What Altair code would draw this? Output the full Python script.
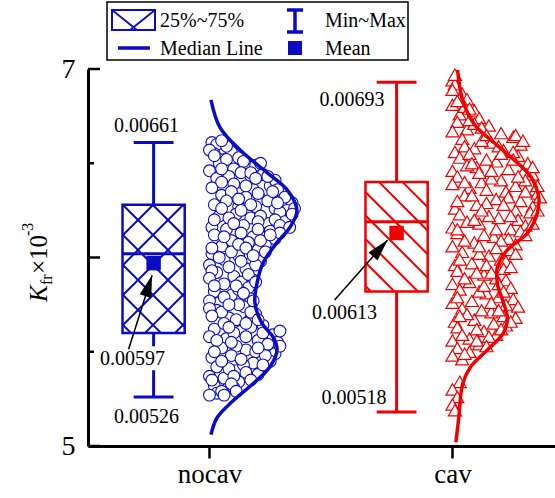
import math
import altair as alt
import pandas as pd

# ---------------- data ----------------
categories = ["nocav", "cav"]
cat_pos = [1, 2]
colors = ["#0B0BC6", "#F20000"]

box_min = [5.26, 5.18]
box_q1 = [5.60, 5.82]
box_median = [6.02, 6.19]
box_q3 = [6.28, 6.40]
box_max = [6.61, 6.93]
box_mean = [5.97, 6.13]
label_min = ["0.00526", "0.00518"]
label_max = ["0.00661", "0.00693"]
label_mean = ["0.00597", "0.00613"]

nocav_y = [6.61, 6.58, 6.56, 6.60, 6.55,
           6.53, 6.50, 6.48, 6.52, 6.46, 6.49, 6.47,
           6.44, 6.42, 6.40, 6.38, 6.43, 6.36, 6.41, 6.37, 6.39,
           6.34, 6.33, 6.31, 6.29, 6.27, 6.26, 6.32, 6.28, 6.30, 6.25, 6.33, 6.27,
           6.24, 6.22, 6.21, 6.19, 6.23, 6.18, 6.16, 6.20, 6.17, 6.22, 6.15,
           6.14, 6.12, 6.11, 6.09, 6.07, 6.13, 6.06, 6.10, 6.08,
           6.04, 6.02, 6.01, 5.99, 5.97, 6.03, 5.96, 5.98,
           5.94, 5.92, 5.90, 5.88, 5.86, 5.93, 5.87,
           5.84, 5.82, 5.80, 5.78, 5.76, 5.83, 5.77,
           5.74, 5.72, 5.70, 5.68, 5.66, 5.73, 5.67, 5.71,
           5.64, 5.62, 5.61, 5.59, 5.57, 5.63, 5.56, 5.58, 5.60, 5.55,
           5.54, 5.52, 5.51, 5.49, 5.47, 5.53, 5.46, 5.48, 5.50, 5.45,
           5.44, 5.42, 5.40, 5.38, 5.36, 5.43, 5.37, 5.41,
           5.34, 5.32, 5.30, 5.28, 5.27, 5.31, 5.29,
           6.59, 6.57, 6.62,
           6.54, 6.51, 6.47, 6.50, 6.45,
           6.45, 6.43, 6.40, 6.38, 6.36, 6.42, 6.35,
           6.35, 6.32, 6.30, 6.28, 6.26, 6.31, 6.29, 6.26, 6.34,
           6.25, 6.23, 6.21, 6.19, 6.17, 6.20, 6.18, 6.16,
           6.15, 6.13, 6.11, 6.09, 6.07, 6.05, 6.12,
           6.05, 6.03, 6.00, 5.98, 5.96, 6.01,
           5.95, 5.91, 5.89, 5.87, 5.85,
           5.85, 5.81, 5.79, 5.75, 5.77,
           5.75, 5.71, 5.69, 5.67, 5.65,
           5.65, 5.63, 5.60, 5.58, 5.56, 5.61,
           5.55, 5.53, 5.50, 5.48, 5.46, 5.52,
           5.45, 5.43, 5.39, 5.37, 5.35,
           5.35, 5.33, 5.29, 5.27]
nocav_dx = [0.01, 0.05, 0.09, 0.03, 0.02,
            0.12, 0.04, 0.16, 0.07, 0.00, 0.19, 0.10,
            0.22, 0.03, 0.13, 0.25, 0.08, 0.18, 0.27, 0.01, 0.10,
            0.30, 0.05, 0.21, 0.34, 0.12, 0.27, 0.15, 0.02, 0.24, 0.32, 0.09, 0.19,
            0.29, 0.04, 0.17, 0.31, 0.11, 0.24, 0.01, 0.27, 0.14, 0.21, 0.07,
            0.25, 0.02, 0.18, 0.09, 0.23, 0.13, 0.05, 0.27, 0.16,
            0.20, 0.01, 0.12, 0.06, 0.17, 0.09, 0.00, 0.21,
            0.15, 0.03, 0.10, 0.18, 0.06, 0.01, 0.13,
            0.16, 0.02, 0.09, 0.17, 0.04, 0.12, 0.00,
            0.14, 0.03, 0.19, 0.08, 0.16, 0.00, 0.11, 0.05,
            0.22, 0.02, 0.13, 0.26, 0.07, 0.17, 0.20, 0.00, 0.10, 0.28,
            0.24, 0.05, 0.15, 0.27, 0.01, 0.11, 0.21, 0.09, 0.19, 0.25,
            0.18, 0.03, 0.11, 0.20, 0.06, 0.14, 0.00, 0.08,
            0.12, 0.02, 0.07, 0.03, 0.00, 0.10, 0.05,
            0.07, 0.00, 0.05,
            0.02, 0.14, 0.05, 0.21, 0.13,
            0.17, 0.24, 0.05, 0.15, 0.28, 0.19, 0.09,
            0.26, 0.31, 0.07, 0.17, 0.35, 0.12, 0.28, 0.05, 0.20,
            0.13, 0.34, 0.08, 0.20, 0.29, 0.02, 0.10, 0.33,
            0.20, 0.29, 0.06, 0.21, 0.12, 0.01, 0.25,
            0.15, 0.23, 0.04, 0.13, 0.19, 0.18,
            0.08, 0.16, 0.00, 0.19, 0.11,
            0.02, 0.14, 0.06, 0.12, 0.18,
            0.08, 0.17, 0.01, 0.20, 0.06,
            0.15, 0.08, 0.22, 0.15, 0.03, 0.29,
            0.09, 0.29, 0.02, 0.23, 0.13, 0.20,
            0.05, 0.22, 0.15, 0.10, 0.17,
            0.01, 0.09, 0.11, 0.06]

cav_y = [6.94, 6.90, 6.87, 6.92,
         6.84, 6.81, 6.78, 6.76, 6.80,
         6.74, 6.72, 6.70, 6.68, 6.66, 6.71, 6.67,
         6.64, 6.63, 6.61, 6.60, 6.58, 6.57, 6.56, 6.62, 6.59,
         6.54, 6.53, 6.51, 6.50, 6.48, 6.47, 6.46, 6.52, 6.49, 6.45,
         6.44, 6.43, 6.41, 6.40, 6.38, 6.37, 6.36, 6.42, 6.39, 6.35, 6.41,
         6.34, 6.33, 6.31, 6.30, 6.28, 6.27, 6.26, 6.32, 6.29, 6.25, 6.33,
         6.24, 6.23, 6.21, 6.20, 6.18, 6.17, 6.16, 6.22, 6.19, 6.15,
         6.14, 6.13, 6.11, 6.10, 6.08, 6.07, 6.06, 6.12, 6.09,
         6.04, 6.03, 6.01, 5.99, 5.97, 5.96, 6.02, 5.98,
         5.94, 5.93, 5.91, 5.89, 5.87, 5.86, 5.92, 5.88,
         5.84, 5.83, 5.81, 5.79, 5.77, 5.76, 5.82, 5.78,
         5.74, 5.73, 5.71, 5.69, 5.67, 5.66, 5.72, 5.68, 5.70,
         5.64, 5.63, 5.61, 5.59, 5.57, 5.56, 5.62, 5.58,
         5.54, 5.52, 5.50, 5.48, 5.46,
         5.34, 5.30, 5.26, 5.22, 5.19,
         6.97, 6.89,
         6.83, 6.79,
         6.73, 6.69, 6.65,
         6.65, 6.62, 6.59, 6.56, 6.55,
         6.55, 6.52, 6.50, 6.48, 6.46,
         6.45, 6.43, 6.40, 6.38, 6.36,
         6.35, 6.32, 6.30, 6.28, 6.25,
         6.25, 6.22, 6.20, 6.18, 6.15,
         6.15, 6.12, 6.09, 6.06,
         6.05, 6.02, 5.99, 5.96,
         5.95, 5.92, 5.89, 5.86,
         5.85, 5.82, 5.79, 5.76,
         5.75, 5.72, 5.69, 5.66,
         5.65, 5.62, 5.59, 5.56,
         5.53, 5.49]
cav_dx = [0.00, 0.02, 0.04, 0.01,
          0.06, 0.00, 0.09, 0.03, 0.05,
          0.11, 0.02, 0.15, 0.06, 0.20, 0.09, 0.00,
          0.25, 0.04, 0.16, 0.28, 0.09, 0.21, 0.01, 0.12, 0.05,
          0.27, 0.03, 0.18, 0.31, 0.10, 0.23, 0.00, 0.14, 0.06, 0.29,
          0.33, 0.02, 0.20, 0.12, 0.26, 0.07, 0.34, 0.16, 0.00, 0.22, 0.30,
          0.35, 0.05, 0.18, 0.28, 0.10, 0.33, 0.01, 0.23, 0.14, 0.26, 0.08,
          0.32, 0.03, 0.19, 0.27, 0.11, 0.30, 0.00, 0.15, 0.06, 0.24,
          0.28, 0.02, 0.17, 0.23, 0.09, 0.26, 0.00, 0.13, 0.05,
          0.24, 0.04, 0.15, 0.20, 0.08, 0.01, 0.11, 0.22,
          0.21, 0.02, 0.13, 0.18, 0.07, 0.00, 0.10, 0.22,
          0.24, 0.03, 0.14, 0.19, 0.08, 0.00, 0.11, 0.25,
          0.27, 0.04, 0.16, 0.21, 0.09, 0.01, 0.12, 0.26, 0.06,
          0.22, 0.02, 0.13, 0.18, 0.07, 0.00, 0.10, 0.15,
          0.11, 0.02, 0.07, 0.00, 0.04,
          0.03, 0.00, 0.02, 0.00, 0.01,
          0.01, 0.00,
          0.02, 0.07,
          0.07, 0.12, 0.26,
          0.14, 0.29, 0.19, 0.25, 0.07,
          0.20, 0.25, 0.08, 0.33, 0.16,
          0.11, 0.27, 0.05, 0.35, 0.14,
          0.30, 0.36, 0.02, 0.21, 0.12,
          0.35, 0.24, 0.09, 0.33, 0.02,
          0.18, 0.30, 0.20, 0.11,
          0.18, 0.26, 0.03, 0.14,
          0.24, 0.16, 0.05, 0.19,
          0.13, 0.21, 0.02, 0.16,
          0.22, 0.19, 0.03, 0.24,
          0.17, 0.20, 0.04, 0.10,
          0.14, 0.05]

nocav_curve_y = [6.836, 6.69, 6.57, 6.45, 6.36, 6.25, 6.16, 6.08, 5.97, 5.86,
                 5.76, 5.65, 5.58, 5.51, 5.42, 5.33, 5.24, 5.15, 5.06]
nocav_curve_w = [0.006, 0.043, 0.126, 0.237, 0.319, 0.360, 0.331, 0.278, 0.220, 0.195,
                 0.187, 0.216, 0.261, 0.278, 0.249, 0.179, 0.097, 0.031, 0.006]
cav_curve_y = [6.995, 6.84, 6.71, 6.61, 6.52, 6.43, 6.32, 6.24, 6.13, 6.04,
               5.95, 5.86, 5.76, 5.68, 5.60, 5.51, 5.42, 5.33, 5.15, 5.02]
cav_curve_w = [0.021, 0.041, 0.088, 0.170, 0.252, 0.322, 0.355, 0.350, 0.309, 0.226,
               0.185, 0.185, 0.210, 0.226, 0.210, 0.144, 0.075, 0.042, 0.026, 0.014]

y_major = [5, 6, 7]
y_minor = [5.5, 6.5]

# ---------------- layout constants ----------------
W, H = 467, 377
XMIN, XMAX = 0.5, 2.422
YMIN, YMAX = 5.0, 7.0
SX = W / (XMAX - XMIN)
SY = H / (YMAX - YMIN)
FONT = "Liberation Serif"
BOX_OFF = -0.23
BOX_HALF = 0.128
CAP_HALF = 0.082


def to_px(xd, yd):
    return (xd - XMIN) * SX, (YMAX - yd) * SY


def to_data(px, py):
    return XMIN + px / SX, YMAX - py / SY


xscale = alt.Scale(domain=[XMIN, XMAX], nice=False, zero=False)
yscale = alt.Scale(domain=[YMIN, YMAX], nice=False, zero=False)
xaxis = alt.Axis(values=cat_pos, labelExpr="datum.value == 1 ? '%s' : (datum.value == 2 ? '%s' : '')" % tuple(categories),
                 grid=False, tickSize=12, tickWidth=2.5, tickColor="black", domainColor="black",
                 domainWidth=3, labelFont=FONT, labelFontSize=27, labelColor="black", labelPadding=3,
                 labelFlush=False, title="")
yaxis = alt.Axis(values=y_major, format="d", grid=False, ticks=False, domainColor="black",
                 domainWidth=3, labelFont=FONT, labelFontSize=28, labelColor="black", labelPadding=13,
                 labelFlush=False, title="")


def X(f):
    return alt.X(f, type="quantitative", scale=xscale, axis=xaxis)


def X2(f):
    return alt.X2(f)


def Y(f):
    return alt.Y(f, type="quantitative", scale=yscale, axis=yaxis)


def Y2(f):
    return alt.Y2(f)


cscale = alt.Scale(domain=categories, range=colors)


def C():
    return alt.Color("cat:N", scale=cscale, legend=None)


# ---------------- box table ----------------
box = pd.DataFrame({
    "cat": categories, "pos": cat_pos, "mn": box_min, "q1": box_q1, "med": box_median,
    "q3": box_q3, "mx": box_max, "mean": box_mean,
})
box["c"] = box["pos"] + BOX_OFF
box["l"] = box["c"] - BOX_HALF
box["r"] = box["c"] + BOX_HALF
box["cl"] = box["c"] - CAP_HALF
box["cr"] = box["c"] + CAP_HALF


def hatch_segments(l, r, lo, hi, family, spacing, phase):
    px0, py0 = to_px(l, hi)
    px1, py1 = to_px(r, lo)
    segs = []
    if family == "back":  # "\" : x - y = c
        cmin, cmax = px0 - py1, px1 - py0
        k = math.floor((cmin - phase) / spacing)
        c = phase + k * spacing
        while c <= cmax:
            xs, xe = max(px0, py0 + c), min(px1, py1 + c)
            if xe - xs > 1:
                segs.append((xs, xs - c, xe, xe - c))
            c += spacing
    else:  # "/" : x + y = c
        cmin, cmax = px0 + py0, px1 + py1
        k = math.floor((cmin - phase) / spacing)
        c = phase + k * spacing
        while c <= cmax:
            xs, xe = max(px0, c - py1), min(px1, c - py0)
            if xe - xs > 1:
                segs.append((xs, c - xs, xe, c - xe))
            c += spacing
    return segs


rows = []
b0, b1 = box.iloc[0], box.iloc[1]
for s in hatch_segments(b0.l, b0.r, b0.q1, b0.q3, "back", 30, -101) + \
        hatch_segments(b0.l, b0.r, b0.q1, b0.q3, "fwd", 30, 201):
    xa, ya = to_data(s[0], s[1]); xb, yb = to_data(s[2], s[3])
    rows.append({"cat": categories[0], "x": xa, "y": ya, "x2": xb, "y2": yb})
for s in hatch_segments(b1.l, b1.r, b1.q1, b1.q3, "back", 23.5, 178):
    xa, ya = to_data(s[0], s[1]); xb, yb = to_data(s[2], s[3])
    rows.append({"cat": categories[1], "x": xa, "y": ya, "x2": xb, "y2": yb})
hatch = pd.DataFrame(rows)

# ---------------- scatter & curves ----------------
pts_nocav = pd.DataFrame({"x": [cat_pos[0] + d for d in nocav_dx], "y": nocav_y})
pts_cav = pd.DataFrame({"x": [cat_pos[1] + d for d in cav_dx], "y": cav_y})
curves = pd.DataFrame({
    "cat": [categories[0]] * len(nocav_curve_y) + [categories[1]] * len(cav_curve_y),
    "x": [cat_pos[0] + w for w in nocav_curve_w] + [cat_pos[1] + w for w in cav_curve_w],
    "y": nocav_curve_y + cav_curve_y,
    "o": list(range(len(nocav_curve_y))) + list(range(len(cav_curve_y))),
})

layers = []

# minor / major y ticks (inward)
layers.append(alt.Chart(pd.DataFrame({"v": y_major})).mark_rule(color="black", strokeWidth=2.5).encode(
    y=Y("v"), x=alt.value(0), x2=alt.value(12)))
layers.append(alt.Chart(pd.DataFrame({"v": y_minor})).mark_rule(color="black", strokeWidth=2.5).encode(
    y=Y("v"), x=alt.value(0), x2=alt.value(6)))

# scatter
layers.append(alt.Chart(pts_nocav).mark_point(shape="circle", filled=True, fill="white", stroke=colors[0],
                                               strokeWidth=1.1, size=140, opacity=1).encode(x=X("x"), y=Y("y")))
layers.append(alt.Chart(pts_cav).mark_point(shape="triangle-up", filled=True, fill="white", stroke=colors[1],
                                            strokeWidth=1.2, size=170, opacity=1).encode(x=X("x"), y=Y("y")))

# density curves
layers.append(alt.Chart(curves).mark_line(interpolate="catmull-rom", strokeWidth=3.5).encode(
    x=X("x"), y=Y("y"), order="o:Q", detail="cat:N", color=C()))

# whiskers
layers.append(alt.Chart(box).mark_rule(strokeWidth=3).encode(x=X("c"), y=Y("q3"), y2=Y2("mx"), color=C()))
layers.append(alt.Chart(box).mark_rule(strokeWidth=3).encode(x=X("c"), y=Y("mn"), y2=Y2("q1"), color=C()))
layers.append(alt.Chart(box).mark_rule(strokeWidth=3).encode(x=X("cl"), x2=X2("cr"), y=Y("mx"), color=C()))
layers.append(alt.Chart(box).mark_rule(strokeWidth=3).encode(x=X("cl"), x2=X2("cr"), y=Y("mn"), color=C()))

# box body
layers.append(alt.Chart(box).mark_rect(fill="white", strokeWidth=0).encode(
    x=X("l"), x2=X2("r"), y=Y("q1"), y2=Y2("q3")))
layers.append(alt.Chart(hatch).mark_rule(strokeWidth=2).encode(
    x=X("x"), y=Y("y"), x2=X2("x2"), y2=Y2("y2"), color=C()))
layers.append(alt.Chart(box).mark_rect(fillOpacity=0, strokeWidth=2.5).encode(
    x=X("l"), x2=X2("r"), y=Y("q1"), y2=Y2("q3"),
    stroke=alt.Stroke("cat:N", scale=cscale, legend=None)))
layers.append(alt.Chart(box).mark_rule(strokeWidth=3).encode(
    x=X("l"), x2=X2("r"), y=Y("med"), color=C()))
layers.append(alt.Chart(box).mark_square(size=210, opacity=1).encode(
    x=X("c"), y=Y("mean"), color=C()))


# ---------------- value labels ----------------
def label(text, xd, yd, dx, dy, align="center", bg=None):
    out = []
    if bg is not None:
        px, py = to_px(xd, yd)
        xa, ya = to_data(px + dx + bg[0], py + dy + bg[1])
        xb, yb = to_data(px + dx + bg[2], py + dy + bg[3])
        out.append(alt.Chart(pd.DataFrame({"x": [xa], "x2": [xb], "y": [ya], "y2": [yb]})).mark_rect(
            fill="white").encode(x=X("x"), x2=X2("x2"), y=Y("y"), y2=Y2("y2")))
    out.append(alt.Chart(pd.DataFrame({"x": [xd], "y": [yd], "t": [text]})).mark_text(
        font=FONT, fontSize=20, color="black", align=align, baseline="middle", dx=dx, dy=dy).encode(
        x=X("x"), y=Y("y"), text="t:N"))
    return out


c0, c1 = b0.c, b1.c
layers += label(label_max[0], c0, box_max[0], -7, -17)
layers += label(label_min[0], c0, box_min[0], -7, 20)
layers += label(label_max[1], c1, box_max[1], -12, 18, align="right")
layers += label(label_min[1], c1, box_min[1], -10, -14, align="right")
layers += label(label_mean[0], c0, box_mean[0], -21, 96, bg=(-36, -13, 36, 11))
layers += label(label_mean[1], c1, box_mean[1], -52, 80)


# ---------------- arrows ----------------
def arrow(xd, yd, start, tip):
    px, py = to_px(xd, yd)
    sx, sy = px + start[0], py + start[1]
    tx, ty = px + tip[0], py + tip[1]
    xa, ya = to_data(sx, sy)
    xb, yb = to_data(tx, ty)
    ang = math.degrees(math.atan2(tx - sx, -(ty - sy))) % 360
    line = alt.Chart(pd.DataFrame({"x": [xa], "y": [ya], "x2": [xb], "y2": [yb]})).mark_rule(
        color="black", strokeWidth=1.5).encode(x=X("x"), y=Y("y"), x2=X2("x2"), y2=Y2("y2"))
    head = alt.Chart(pd.DataFrame({"x": [xb], "y": [yb]})).mark_point(
        shape="M0,0L0.55,2L-0.55,2Z", size=484, filled=True, color="black", opacity=1,
        angle=ang).encode(x=X("x"), y=Y("y"))
    return [line, head]


layers += arrow(c0, box_mean[0], (-25, 86), (-1.5, 12))
layers += arrow(c1, box_mean[1], (-62, 67), (-9, 7))


# ---------------- y title (K_fr x 10^-3) ----------------
def vtext(t, x, y, size, style="normal"):
    return alt.Chart(pd.DataFrame({"t": [t]})).mark_text(
        font=FONT, fontSize=size, fontStyle=style, color="black", angle=270, align="left",
        baseline="alphabetic").encode(text="t:N", x=alt.value(x), y=alt.value(y))


layers += [vtext("K", -41, 233, 25, "italic"), vtext("fr", -36, 216, 16),
           vtext("\u00d710", -41, 205, 25), vtext("-3", -55, 167, 16)]

# ---------------- legend ----------------
one = pd.DataFrame({"a": [0]})


def prect(x, x2, y, y2, **kw):
    return alt.Chart(one).mark_rect(**kw).encode(x=alt.value(x), x2=alt.value(x2), y=alt.value(y), y2=alt.value(y2))


def pline(x, y, x2, y2, color, w):
    return alt.Chart(one).mark_rule(color=color, strokeWidth=w).encode(
        x=alt.value(x), y=alt.value(y), x2=alt.value(x2), y2=alt.value(y2))


def ptext(t, x, y):
    return alt.Chart(pd.DataFrame({"t": [t]})).mark_text(
        font=FONT, fontSize=20, color="black", align="left", baseline="middle").encode(
        text="t:N", x=alt.value(x), y=alt.value(y))


B = colors[0]
layers += [
    prect(19, 320, -67, -9, fill="white", stroke="black", strokeWidth=1.5),
    prect(24, 67, -59, -39, fill="white", stroke=B, strokeWidth=2),
    pline(24, -59, 49, -39, B, 1.8),
    pline(42, -39, 67, -59, B, 1.8),
    ptext("25%~75%", 72, -48),
    pline(30, -21, 62, -21, B, 3.5),
    ptext("Median Line", 72, -20),
    pline(207, -59, 207, -37, B, 3.5),
    pline(199, -59, 215, -59, B, 3.5),
    pline(199, -37, 215, -37, B, 3.5),
    ptext("Min~Max", 237, -48),
    alt.Chart(one).mark_square(size=196, color=B, opacity=1).encode(x=alt.value(207), y=alt.value(-21)),
    ptext("Mean", 237, -20),
]

chart = alt.layer(*layers).properties(
    width=W, height=H,
    padding={"left": 88, "top": 69, "right": 0, "bottom": 52},
    autosize=alt.AutoSizeParams(type="none"),
    background="white",
).configure_view(strokeWidth=0)

chart.save("out.html", embed_options={"renderer": "svg", "actions": False})
